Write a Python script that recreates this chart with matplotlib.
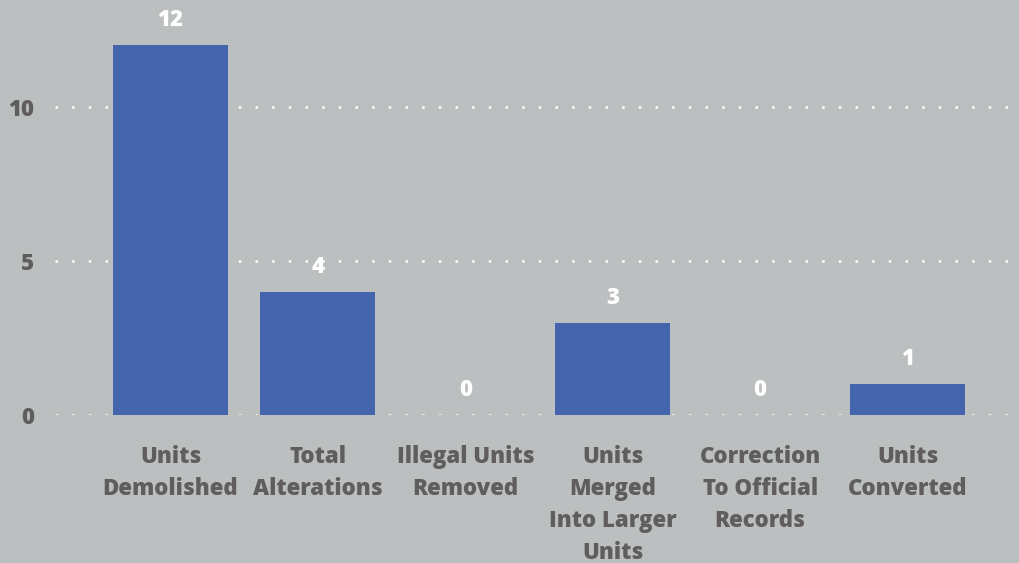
import matplotlib
matplotlib.use("Agg")
import matplotlib.pyplot as plt

categories = ["Units\nDemolished", "Total\nAlterations", "Illegal Units\nRemoved",
              "Units\nMerged\nInto Larger\nUnits", "Correction\nTo Official\nRecords",
              "Units\nConverted"]
values = [12, 4, 0, 3, 0, 1]
yticks = [0, 5, 10]

BG = "#BCBFC0"
BAR = "#4464AE"
TXT = "#605E5C"
FONT = ["Open Sans", "DejaVu Sans"]
W = 800

plt.rcParams["lines.scale_dashes"] = False
fig = plt.figure(figsize=(10.2, 5.63), dpi=100, facecolor=BG)
ax = fig.add_axes([55 / 1020, 148 / 563, 965 / 1020, 415 / 563])
ax.set_facecolor(BG)

x = list(range(len(values)))
ax.bar(x, values, width=0.780, color=BAR, zorder=3)
ax.set_xlim(-0.7836, 5.763)
ax.set_ylim(0, 13.47)

for xi, v in zip(x, values):
    ax.annotate(str(v), (xi, v), xytext=(0, 25), textcoords="offset pixels",
                ha="center", va="center", color="white", fontsize=16,
                fontweight=W, family=FONT)

ax.set_yticks(yticks)
ax.set_yticklabels([str(t) for t in yticks], fontsize=16, fontweight=W,
                   color=TXT, family=FONT)
ax.set_xticks(x)
ax.set_xticklabels(categories, fontsize=16, fontweight=W, color=TXT,
                   family=FONT, linespacing=1.45)
ax.tick_params(axis="x", length=0, pad=21.5)
ax.tick_params(axis="y", length=0, pad=15)
for s in ax.spines.values():
    s.set_visible(False)
ax.yaxis.grid(True, color="white", linewidth=1.8, linestyle=(0, (1.8, 10.2)), zorder=0)
ax.set_axisbelow(True)

fig.savefig("out.png", dpi=100, facecolor=BG)
